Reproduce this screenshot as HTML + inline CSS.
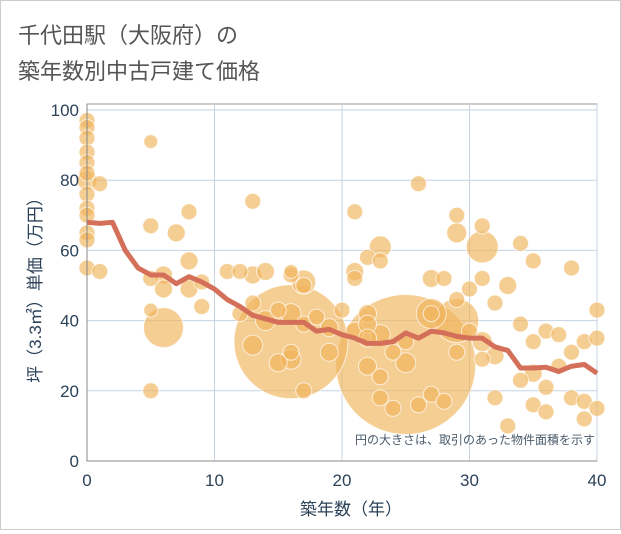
<!DOCTYPE html>
<html><head><meta charset="utf-8"><style>
body{margin:0;background:#fff;font-family:"Liberation Sans","Noto Sans CJK JP",sans-serif}
#wrap{position:relative;width:619px;height:528px;border:1px solid #ccc;background:#fff}
</style></head><body>
<div id="wrap">
<svg id="svg" width="619" height="528" xmlns="http://www.w3.org/2000/svg">
<text x="17" y="42" font-size="22" fill="#555" font-family="Liberation Sans,Noto Sans CJK JP,sans-serif">千代田駅（大阪府）の</text>
<text x="17" y="78" font-size="22" fill="#555" font-family="Liberation Sans,Noto Sans CJK JP,sans-serif">築年数別中古戸建て価格</text>
<g id="grid"></g><g id="bubbles"></g><g id="line"></g><g id="axes"></g>
<text x="594" y="443" font-size="12" fill="#4a5a6a" text-anchor="end" font-family="Liberation Sans,Noto Sans CJK JP,sans-serif">円の大きさは、取引のあった物件面積を示す</text>
<text x="350" y="514" font-size="17" fill="#2c4258" text-anchor="middle" font-family="Liberation Sans,Noto Sans CJK JP,sans-serif">築年数（年）</text>
<text transform="translate(40,285) rotate(-90)" font-size="17" fill="#2c4258" text-anchor="middle" font-family="Liberation Sans,Noto Sans CJK JP,sans-serif">坪（3.3㎡）単価（万円）</text>
</svg></div>
<script>
const xTicks=[0,10,20,30,40];
const yTicks=[0,20,40,60,80,100];
const lineAges=[0,1,2,3,4,5,6,7,8,9,10,11,12,13,14,15,16,17,18,19,20,21,22,23,24,25,26,27,28,29,30,31,32,33,34,35,36,37,38,39,40];
const lineValues=[68,67.7,68,60,55,53,53,50.5,52.5,51,49,46,44,41.5,40.5,39.5,39.5,39.5,37,37.5,36,35,33.5,33.5,34,36.5,35,37,36.5,35.5,35,35,32.5,31.5,26.5,26.5,26.7,25.5,27,27.5,25];
const bubX=[0,0,0,0,0,0,0,0,0,0,0,0,0,1,1,5,5,5,5,5,6,6,7,8,8,8,9,9,11,12,12,13,13,13,13,14,14,15,15,16,16,16,16,16,17,17,17,17,18,19,19,20,21,21,21,21,22,22,22,22,22,23,23,23,23,23,24,24,25,25,26,26,27,27,27,28,28,29,29,29,29,30,30,31,31,31,31,32,32,32,33,33,34,34,34,35,35,35,35,36,36,36,37,37,38,38,38,39,39,39,40,40,40,16,25,6,29,31,27];
const bubY=[97,95,92,88,85,82,80,76,72,70,65,63,55,79,54,67,43,52,20,91,53,49,65,71,57,49,51,44,54,54,42,74,53,45,33,54,40,43,28,53,42,29,31,54,51,50,20,39,41,38,31,43,71,54,52,37,58,42,39,27,35,61,57,36,24,18,31,15,34,28,79,16,52,42,19,52,17,70,65,46,31,49,37,67,52,29,34,45,18,30,50,10,62,39,23,57,34,25,16,37,21,14,36,27,55,31,18,34,17,12,43,35,15,34,27.5,38,40,61,42];
const bubR=[8,8,8,8,8,8,10,8,8,8,8,8,8,8,8,8,7,8,8,7,9,9,9,8,9,9,8,8,8,8,8,8,9,8,10,9,10,8,9,8,10,10,8,7,12,8,8,8,8,9,9,8,8,9,8,9,8,9,9,9,9,11,8,10,8,8,8,8,8,10,8,8,9,8,8,8,8,8,10,8,8,8,8,8,8,8,10,8,8,9,9,8,8,8,8,8,8,9,8,8,8,8,8,8,8,8,8,8,8,8,8,8,8,57,70,20,22,16,15];
const X0=86,X1=596,Y0=460,Y1=109;
const sx=v=>X0+(X1-X0)*v/40, sy=v=>Y0-(Y0-Y1)*v/100;
const NS="http://www.w3.org/2000/svg";
function mk(t,a,p){const e=document.createElementNS(NS,t);for(const k in a)e.setAttribute(k,a[k]);p.appendChild(e);return e;}
const grid=document.getElementById('grid'),axes=document.getElementById('axes');
mk('rect',{x:X0,y:103,width:X1-X0,height:Y0-103,fill:'#fff',stroke:'#999'},grid);
xTicks.forEach(t=>{const l=mk('line',{x1:sx(t),x2:sx(t),y1:103,y2:Y0,stroke:'#c5d3e2'},grid);

const tx=mk('text',{x:sx(t),y:Y0+25,'font-size':17,fill:'#2c4258','text-anchor':'middle'},axes);tx.textContent=t;
});
yTicks.forEach(t=>{const l=mk('line',{x1:X0,x2:X1,y1:sy(t),y2:sy(t),stroke:'#c5d3e2'},grid);

const tx=mk('text',{x:X0-8,y:sy(t)+6,'font-size':17,fill:'#2c4258','text-anchor':'end'},axes);tx.textContent=t;
});
mk('line',{x1:X0,x2:X0,y1:103,y2:Y0,stroke:'#888'},axes);mk('line',{x1:X0,x2:X1,y1:Y0,y2:Y0,stroke:'#888'},axes);
const bg=document.getElementById('bubbles');
const order=bubX.map((_,i)=>i).sort((a,b)=>bubR[b]-bubR[a]);
order.forEach(i=>{const c=mk('circle',{cx:sx(bubX[i]),cy:sy(bubY[i]),r:bubR[i],fill:'rgba(240,180,90,0.65)',stroke:'rgba(255,255,255,0.7)','stroke-width':1},bg);
});
const lp=mk('polyline',{points:lineAges.map((a,i)=>sx(a)+','+sy(lineValues[i])).join(' '),fill:'none',stroke:'#d4705a','stroke-width':5,'stroke-linejoin':'round'},document.getElementById('line'));

</script></body></html>
